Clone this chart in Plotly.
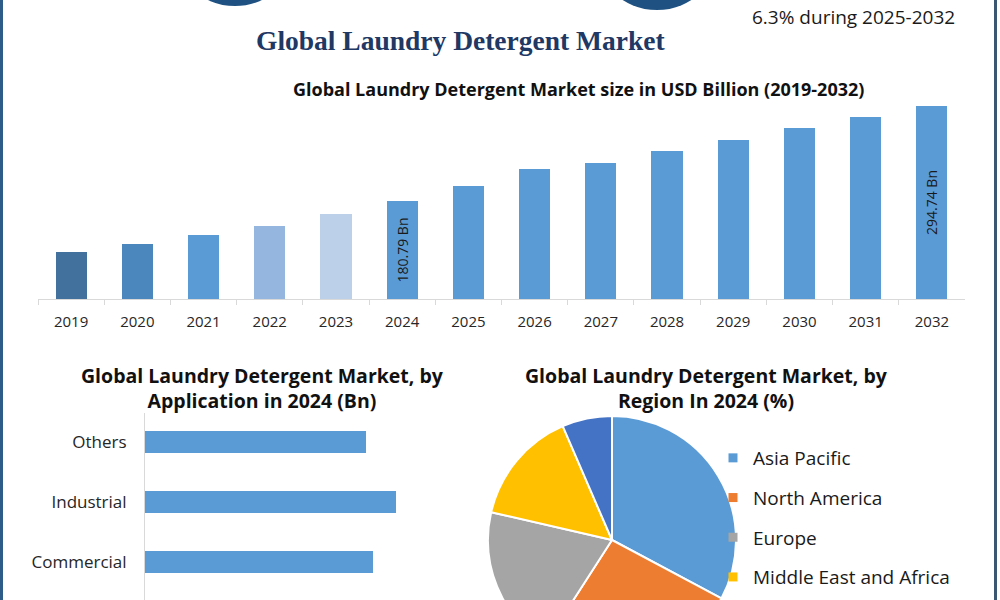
import plotly.graph_objects as go

W, H = 1000, 680  # figure taller than the 600px window so the bottom is cropped like the reference


def py(p):
    return 1 - p / H


def pxx(p):
    return p / W


# ---------------- data ----------------
years = ['2019', '2020', '2021', '2022', '2023', '2024', '2025',
         '2026', '2027', '2028', '2029', '2030', '2031', '2032']
market_size = [120.0, 130.2, 140.2, 151.3, 165.3, 180.79, 199.0,
               218.9, 226.1, 240.4, 253.8, 267.8, 280.9, 294.74]
labelled_years = ['2024', '2032']

applications = ['Commercial', 'Industrial', 'Others']
application_values = [37.7, 41.5, 36.5]

regions = ['Asia Pacific', 'North America', 'Europe', 'Middle East and Africa', 'South America']
region_share = [32.8, 26.3, 19.5, 14.9, 6.5]
legend_regions = regions[:4]  # the fifth legend entry lies below the visible area

# ---------------- styles ----------------
year_colors = ['#41719c', '#4b86bd', '#5b9bd5', '#95b6de', '#bdd0ea'] + ['#5b9bd5'] * 9
region_colors = ['#5b9bd5', '#ed7d31', '#a5a5a5', '#ffc000', '#4472c4']
FONT = 'Open Sans'

axis_floor = 64.3          # value at the bar chart baseline
per_px = 1.192             # value units per pixel in the bar chart

bar_text = [f'{v} Bn' if y in labelled_years else '' for y, v in zip(years, market_size)]
bar_len = [v - axis_floor for v in market_size]

fig = go.Figure()

fig.add_trace(go.Bar(
    x=years, y=bar_len, base=[axis_floor] * len(years),
    marker=dict(color=year_colors, line=dict(width=0)),
    width=0.47, text=bar_text, textangle=-90, textposition='inside',
    insidetextanchor='middle', textfont=dict(size=14, color='#1a1a1a', family=FONT),
    xaxis='x', yaxis='y', showlegend=False, hoverinfo='x'))

fig.add_trace(go.Bar(
    x=application_values, y=applications, orientation='h', width=0.36,
    marker=dict(color='#5b9bd5', line=dict(width=0)),
    xaxis='x2', yaxis='y2', showlegend=False))

fig.add_trace(go.Pie(
    labels=regions, values=region_share, sort=False, direction='clockwise', rotation=0,
    marker=dict(colors=region_colors, line=dict(color='white', width=2)),
    textinfo='none', showlegend=False,
    domain=dict(x=[pxx(488), pxx(736)], y=[py(664), py(416)])))

# legend entries for the pie
for name in legend_regions:
    col = region_colors[regions.index(name)]
    fig.add_trace(go.Scatter(
        x=[None], y=[None], mode='markers', name=name, legendgroup=name,
        marker=dict(symbol='square', size=9, color=col),
        xaxis='x', yaxis='y', showlegend=True))

fig.update_layout(
    width=W, height=H,
    margin=dict(l=0, r=0, t=0, b=0),
    paper_bgcolor='white', plot_bgcolor='rgba(0,0,0,0)',
    bargap=0,
    xaxis=dict(domain=[pxx(38), pxx(965)], type='category', range=[-0.5, 13.5],
               showline=True, linecolor='#d9d9d9', linewidth=1,
               ticks='outside', tickson='boundaries', ticklen=5, tickcolor='#d9d9d9',
               ticklabelstandoff=9,
               tickfont=dict(size=15, color='#262626', family=FONT),
               showgrid=False, zeroline=False, fixedrange=True),
    yaxis=dict(domain=[py(299), py(100)], range=[axis_floor, axis_floor + 199 * per_px],
               visible=False, showgrid=False, zeroline=False),
    xaxis2=dict(domain=[pxx(145), pxx(470)], range=[0, 325 / 6.055], visible=False,
                showgrid=False, zeroline=False, anchor='y2'),
    yaxis2=dict(domain=[0, py(413)], type='category',
                range=[0 - (H - 562) / 60, 2 + (442 - 413) / 60],
                showline=True, linecolor='#d9d9d9', linewidth=1, ticks='',
                ticklabelstandoff=14,
                tickfont=dict(size=17, color='#262626', family=FONT),
                showgrid=False, zeroline=False, anchor='x2'),
    legend=dict(x=pxx(713), xanchor='left', y=py(439), yanchor='top',
                font=dict(size=19, color='#1a1a1a', family=FONT),
                bgcolor='rgba(0,0,0,0)', tracegroupgap=12, itemwidth=30),
    showlegend=True,
)

annotations = [
    dict(text='<b>Global Laundry Detergent Market</b>', x=pxx(460), y=py(40),
         font=dict(size=27.5, color='#1f3864', family='Liberation Serif')),
    dict(text='6.3% during 2025-2032', x=pxx(853), y=py(17),
         font=dict(size=19, color='#1a1a1a', family=FONT)),
    dict(text='<b>Global Laundry Detergent Market size in USD Billion (2019-2032)</b>',
         x=pxx(578), y=py(89), font=dict(size=18, color='#111111', family=FONT)),
    dict(text='<b>Global Laundry Detergent Market, by<br>Application in 2024 (Bn)</b>',
         x=pxx(262), y=py(388), font=dict(size=19.5, color='#111111', family=FONT)),
    dict(text='<b>Global Laundry Detergent Market, by<br>Region In 2024 (%)</b>',
         x=pxx(706), y=py(388), font=dict(size=19.5, color='#111111', family=FONT)),
]
for a in annotations:
    a.update(xref='paper', yref='paper', showarrow=False, xanchor='center', yanchor='middle')
fig.update_layout(annotations=annotations)

shapes = [
    dict(type='rect', xref='paper', yref='paper', x0=0, x1=pxx(3), y0=0, y1=1,
         fillcolor='#2e5c88', line=dict(width=0)),
    dict(type='rect', xref='paper', yref='paper', x0=pxx(994), x1=pxx(997), y0=0, y1=1,
         fillcolor='#3b5670', line=dict(width=0)),
    dict(type='circle', xref='paper', yref='paper', x0=pxx(235 - 64), x1=pxx(235 + 64),
         y0=py(6), y1=py(6 - 128), fillcolor='#1f5282', line=dict(width=0)),
    dict(type='circle', xref='paper', yref='paper', x0=pxx(657 - 64), x1=pxx(657 + 64),
         y0=py(10), y1=py(10 - 128), fillcolor='#1f5282', line=dict(width=0)),
]
fig.update_layout(shapes=shapes)

fig.write_html('out.html')
